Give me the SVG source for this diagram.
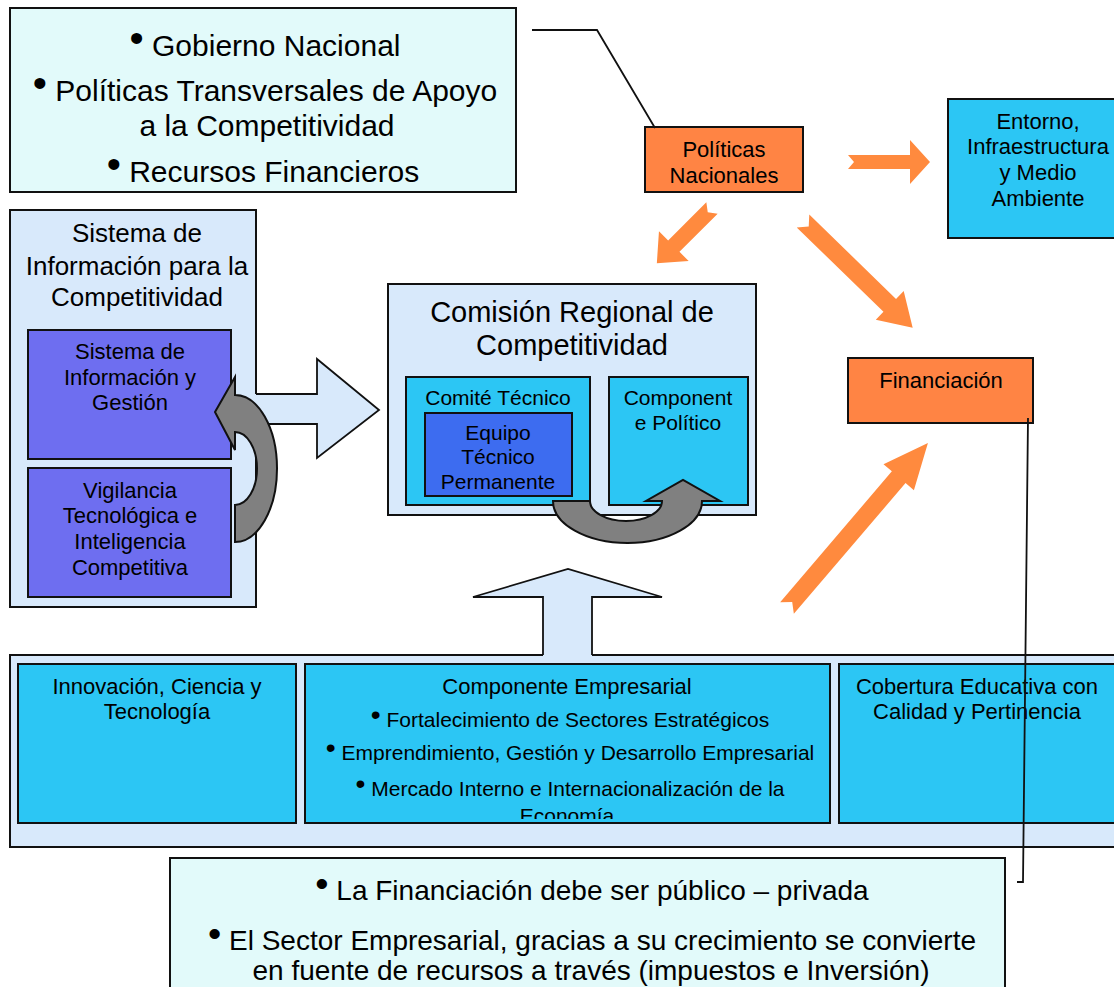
<svg xmlns="http://www.w3.org/2000/svg" width="1114" height="987" viewBox="0 0 1114 987">
<style>
.t{font-family:"Liberation Sans",Arial,sans-serif;fill:#000;text-anchor:middle}
.bu{font-size:1.35em}
.bx{stroke:#111;stroke-width:2}
.lc{fill:#E2FAFA}
.lb{fill:#D8E9FB}
.cy{fill:#2CC6F4}
.pu{fill:#6E6EF0}
.eq{fill:#3D6CF0}
.or{fill:#FF8444}
.oa{fill:#FF8A3E}
.gr{fill:#808080;stroke:#111;stroke-width:2}
.ln{fill:none;stroke:#111;stroke-width:1.8}
</style>
<defs>
<clipPath id="clipEmp"><rect x="306" y="665" width="523" height="154"/></clipPath>
</defs>
<rect width="1114" height="987" fill="#fff"/>

<g id="gobierno">
<rect class="bx lc" x="10" y="8" width="506" height="184"/>
<text class="t" font-size="30" x="265" y="56"><tspan class="bu" dy="-4">•</tspan><tspan dy="4"> Gobierno Nacional</tspan></text>
<text class="t" font-size="30" x="265" y="101"><tspan class="bu" dy="-4">•</tspan><tspan dy="4"> Políticas Transversales de Apoyo</tspan></text>
<text class="t" font-size="30" x="267" y="136">a la Competitividad</text>
<text class="t" font-size="30" x="263" y="182"><tspan class="bu" dy="-4">•</tspan><tspan dy="4"> Recursos Financieros</tspan></text>
</g>

<g id="politicas">
<rect class="bx or" x="645" y="127" width="158" height="65"/>
<text class="t" font-size="22" x="724" y="157">Políticas</text>
<text class="t" font-size="22" x="724" y="183">Nacionales</text>
</g>

<g id="entorno">
<rect class="bx cy" x="948" y="99" width="170" height="139"/>
<text class="t" font-size="22" x="1038" y="129">Entorno,</text>
<text class="t" font-size="22" x="1038" y="154">Infraestructura</text>
<text class="t" font-size="22" x="1038" y="180">y Medio</text>
<text class="t" font-size="22" x="1038" y="206">Ambiente</text>
</g>

<g id="financiacion">
<rect class="bx or" x="848" y="358" width="185" height="65"/>
<text class="t" font-size="22" x="941" y="388">Financiación</text>
</g>

<g id="sistema-info">
<rect class="bx lb" x="10" y="210" width="246" height="397"/>
<text class="t" font-size="26" x="137" y="242">Sistema de</text>
<text class="t" font-size="26" x="137" y="275">Información para la</text>
<text class="t" font-size="26" x="137" y="306">Competitividad</text>
</g>

<g id="sistema-gestion">
<rect class="bx pu" x="28" y="330" width="203" height="129"/>
<text class="t" font-size="22" x="130" y="359">Sistema de</text>
<text class="t" font-size="22" x="130" y="385">Información y</text>
<text class="t" font-size="22" x="130" y="410">Gestión</text>
</g>

<g id="vigilancia">
<rect class="bx pu" x="28" y="468" width="203" height="129"/>
<text class="t" font-size="22" x="130" y="498">Vigilancia</text>
<text class="t" font-size="22" x="130" y="523">Tecnológica e</text>
<text class="t" font-size="22" x="130" y="549">Inteligencia</text>
<text class="t" font-size="22" x="130" y="575">Competitiva</text>
</g>

<g id="comision">
<rect class="bx lb" x="388" y="284" width="368" height="231"/>
<text class="t" font-size="29" x="572" y="322">Comisión Regional de</text>
<text class="t" font-size="29" x="572" y="355">Competitividad</text>
</g>

<g id="comite">
<rect class="bx cy" x="406" y="377" width="184" height="128"/>
<text class="t" font-size="21" x="498" y="405">Comité Técnico</text>
</g>

<g id="equipo">
<rect class="bx eq" x="425" y="413" width="147" height="83"/>
<text class="t" font-size="21" x="498" y="440">Equipo</text>
<text class="t" font-size="21" x="498" y="464">Técnico</text>
<text class="t" font-size="21" x="498" y="489">Permanente</text>
</g>

<g id="componente-politico">
<rect class="bx cy" x="609" y="377" width="139" height="128"/>
<text class="t" font-size="21" x="678" y="405">Component</text>
<text class="t" font-size="21" x="678" y="430">e Político</text>
</g>

<g id="sectores">
<rect class="bx lb" x="10" y="655" width="1110" height="192"/>
</g>

<g id="innovacion">
<rect class="bx cy" x="18" y="664" width="278" height="159"/>
<text class="t" font-size="22" x="157" y="694">Innovación, Ciencia y</text>
<text class="t" font-size="22" x="157" y="719">Tecnología</text>
</g>

<g id="componente-empresarial">
<rect class="bx cy" x="305" y="664" width="525" height="159"/>
<text class="t" font-size="22" x="567" y="694">Componente Empresarial</text>
<text class="t" font-size="21" x="570" y="727"><tspan class="bu" dy="-3">•</tspan><tspan dy="3"> Fortalecimiento de Sectores Estratégicos</tspan></text>
<text class="t" font-size="21" x="570" y="760"><tspan class="bu" dy="-3">•</tspan><tspan dy="3"> Emprendimiento, Gestión y Desarrollo Empresarial</tspan></text>
<text class="t" font-size="21" x="570" y="796"><tspan class="bu" dy="-3">•</tspan><tspan dy="3"> Mercado Interno e Internacionalización de la</tspan></text>
<text class="t" font-size="21" x="567" y="823" clip-path="url(#clipEmp)">Economía</text>
</g>

<g id="cobertura">
<rect class="bx cy" x="839" y="664" width="280" height="159"/>
<text class="t" font-size="22" x="977" y="694">Cobertura Educativa con</text>
<text class="t" font-size="22" x="977" y="719">Calidad y Pertinencia</text>
</g>

<g id="nota-financiacion">
<rect class="bx lc" x="170" y="858" width="835" height="135"/>
<text class="t" font-size="28" x="592" y="900"><tspan class="bu" dy="-4">•</tspan><tspan dy="4"> La Financiación debe ser público – privada</tspan></text>
<text class="t" font-size="28" x="592" y="950"><tspan class="bu" dy="-4">•</tspan><tspan dy="4"> El Sector Empresarial, gracias a su crecimiento se convierte</tspan></text>
<text class="t" font-size="28" x="591" y="980">en fuente de recursos a través (impuestos e Inversión)</text>
</g>

<g id="connectors">
<polyline class="ln" points="532,30 597,30 655,128"/>
<polyline class="ln" points="1028,418 1023,882 1017,882"/>
<polygon class="lb" points="255,394 317,394 317,359 379,410 317,458 317,424 255,424"/>
<polyline class="ln" stroke-width="2" points="256,394 317,394 317,359 379,410 317,458 317,424 256,424"/>
<polygon class="lb" points="543,656 543,597 473,597 568,569 662,597 592,597 592,656"/>
<polyline class="ln" stroke-width="2" points="543,655 543,597 473,597 568,569 662,597 592,597 592,655"/>
<polygon class="oa" transform="translate(848,162)" points="0,-7 62,-7 62,-22 82,0 62,22 62,7 0,7 6,0"/>
<polygon class="oa" transform="translate(712,208) rotate(135)" points="0,-8 54,-8 54,-21 78,0 54,21 54,8 0,8 6,0"/>
<polygon class="oa" transform="translate(803,221) rotate(44.2)" points="0,-9 121,-9 121,-20 153,0 121,20 121,9 0,9 8,0"/>
<polygon class="oa" transform="translate(787,608) rotate(-49.5)" points="0,-9 172,-9 172,-20 217,0 172,20 172,9 0,9 8,0"/>
<path class="gr" d="M235,377 L215,412 L235,450 L235,432 A22,36.5 0 0 1 235,505 L235,542 A42,73.5 0 0 0 235,395 Z"/>
<path class="gr" d="M553,501 A74.5,42 0 0 0 702,501 L720,501 L683,480 L646,501 L662,501 A36,20 0 0 1 590,501 Z"/>
</g>
</svg>
